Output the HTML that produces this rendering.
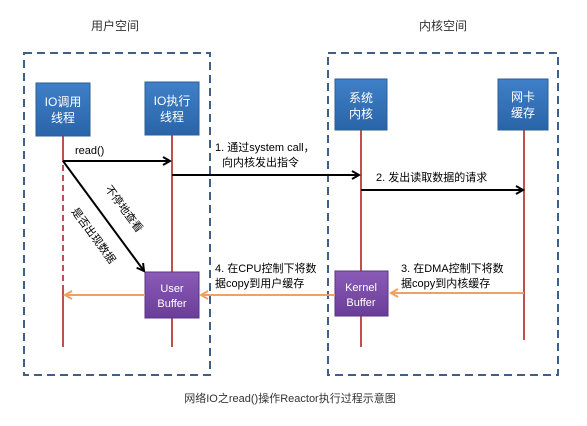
<!DOCTYPE html>
<html><head><meta charset="utf-8"><style>
html,body{margin:0;padding:0;background:#fff;}
svg text{font-family:"Liberation Sans","Noto Sans CJK SC",sans-serif;}
</style></head><body>
<svg width="587" height="421" viewBox="0 0 587 421" xmlns="http://www.w3.org/2000/svg">
<defs>
<linearGradient id="bl" x1="0" y1="0" x2="0" y2="1"><stop offset="0" stop-color="#3f80c8"/><stop offset="1" stop-color="#2a64a8"/></linearGradient>
<linearGradient id="pu" x1="0" y1="0" x2="0" y2="1"><stop offset="0" stop-color="#8a5cb8"/><stop offset="1" stop-color="#6a3d98"/></linearGradient>
<marker id="ak" markerWidth="10" markerHeight="10" refX="8" refY="5" orient="auto" markerUnits="userSpaceOnUse"><path d="M1,1 L8,5 L1,9" fill="none" stroke="#000" stroke-width="2"/></marker>
<marker id="ao" markerWidth="10" markerHeight="10" refX="8" refY="5" orient="auto" markerUnits="userSpaceOnUse"><path d="M1,1 L8,5 L1,9" fill="none" stroke="#f0a060" stroke-width="2"/></marker>
</defs>
<text x="115" y="30" font-size="12" fill="#333" text-anchor="middle">用户空间</text>
<text x="443" y="30" font-size="12" fill="#333" text-anchor="middle">内核空间</text>
<rect x="24" y="53" width="186" height="322" fill="none" stroke="#3e5f87" stroke-width="2" stroke-dasharray="8,5"/>
<rect x="328" y="53" width="230" height="322" fill="none" stroke="#3e5f87" stroke-width="2" stroke-dasharray="8,5"/>
<line x1="63" y1="136" x2="63" y2="162" stroke="#c0504d" stroke-width="2"/>
<line x1="63" y1="165" x2="63" y2="290" stroke="#c0504d" stroke-width="2" stroke-dasharray="6,4"/>
<line x1="63" y1="290" x2="63" y2="347" stroke="#c0504d" stroke-width="2"/>
<line x1="172" y1="135" x2="172" y2="347" stroke="#c0504d" stroke-width="2"/>
<line x1="361" y1="130" x2="361" y2="347" stroke="#c0504d" stroke-width="2"/>
<line x1="524" y1="130" x2="524" y2="340" stroke="#c0504d" stroke-width="2"/>
<rect x="36" y="83" width="54" height="53" fill="url(#bl)" stroke="#2b5d95"/>
<text x="63" y="106" font-size="12" fill="#fff" text-anchor="middle">IO调用</text>
<text x="63" y="122" font-size="12" fill="#fff" text-anchor="middle">线程</text>
<rect x="145" y="82" width="54" height="53" fill="url(#bl)" stroke="#2b5d95"/>
<text x="172" y="105" font-size="12" fill="#fff" text-anchor="middle">IO执行</text>
<text x="172" y="121" font-size="12" fill="#fff" text-anchor="middle">线程</text>
<rect x="335" y="79" width="52" height="51" fill="url(#bl)" stroke="#2b5d95"/>
<text x="361" y="102" font-size="12" fill="#fff" text-anchor="middle">系统</text>
<text x="361" y="118" font-size="12" fill="#fff" text-anchor="middle">内核</text>
<rect x="498" y="79" width="50" height="51" fill="url(#bl)" stroke="#2b5d95"/>
<text x="523" y="101" font-size="12" fill="#fff" text-anchor="middle">网卡</text>
<text x="523" y="117" font-size="12" fill="#fff" text-anchor="middle">缓存</text>
<rect x="145" y="272" width="54" height="46" fill="url(#pu)" stroke="#5a3385"/>
<text x="172" y="292" font-size="11" fill="#fff" text-anchor="middle">User</text>
<text x="172" y="307" font-size="11" fill="#fff" text-anchor="middle">Buffer</text>
<rect x="335" y="271" width="53" height="45" fill="url(#pu)" stroke="#5a3385"/>
<text x="361" y="291" font-size="11" fill="#fff" text-anchor="middle">Kernel</text>
<text x="361" y="306" font-size="11" fill="#fff" text-anchor="middle">Buffer</text>
<line x1="63" y1="161" x2="170" y2="161" stroke="#000" stroke-width="2" marker-end="url(#ak)"/>
<text x="75" y="154" font-size="11" fill="#000">read()</text>
<line x1="172" y1="175" x2="359" y2="175" stroke="#000" stroke-width="2" marker-end="url(#ak)"/>
<text x="215" y="151" font-size="11" fill="#000">1. 通过system call，</text>
<text x="222" y="166" font-size="11" fill="#000">向内核发出指令</text>
<line x1="361" y1="190" x2="523" y2="190" stroke="#000" stroke-width="2" marker-end="url(#ak)"/>
<text x="376" y="181" font-size="11" fill="#000">2. 发出读取数据的请求</text>
<line x1="63" y1="161" x2="144" y2="271" stroke="#000" stroke-width="2" marker-end="url(#ak)"/>
<text transform="translate(121,211) rotate(53.5)" font-size="11" fill="#000" text-anchor="middle" dy="0">不停地查看</text>
<text transform="translate(97,233) rotate(53.5)" font-size="11" fill="#000" text-anchor="middle" dy="8">是否出现数据</text>
<line x1="524" y1="293" x2="391" y2="293" stroke="#f0a060" stroke-width="2" marker-end="url(#ao)"/>
<text x="401" y="272" font-size="11" fill="#000">3. 在DMA控制下将数</text>
<text x="401" y="287" font-size="11" fill="#000">据copy到内核缓存</text>
<line x1="335" y1="295" x2="201" y2="295" stroke="#f0a060" stroke-width="2" marker-end="url(#ao)"/>
<text x="215" y="272" font-size="11" fill="#000">4. 在CPU控制下将数</text>
<text x="215" y="287" font-size="11" fill="#000">据copy到用户缓存</text>
<line x1="145" y1="295" x2="65" y2="295" stroke="#f0a060" stroke-width="2" marker-end="url(#ao)"/>
<text x="290" y="402" font-size="11" fill="#333" text-anchor="middle">网络IO之read()操作Reactor执行过程示意图</text>
</svg>
</body></html>
